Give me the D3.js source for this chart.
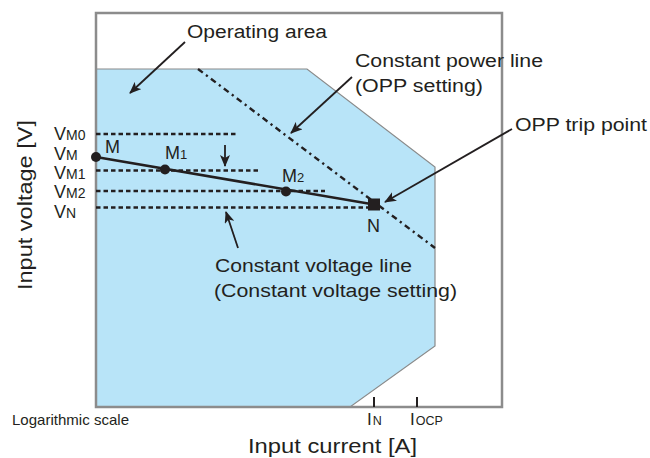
<!DOCTYPE html>
<html><head><meta charset="utf-8">
<script src="https://cdn.jsdelivr.net/npm/d3@7"></script>
<style>
body{margin:0;background:#fff}
text{font-family:"Liberation Sans",Arial,Helvetica,sans-serif;fill:#231f20}
</style>
</head><body><svg id="c" width="650" height="458"></svg>
<script>
// ---- data (schematic units) ----
const operatingArea = [[0,338],[211,338],[339,240],[339,61],[254,0],[0,0]];
const powerLine = [[102,338],[339,159]];
const voltageNames = ["M0","M","M1","M2","N"];
const voltageLevels = [273,250,236.5,216,199.5];
const dashedEnds = [141,null,162,229,277];
const pointNames = ["M","M1","M2","N"];
const pointCurrent = [0,69,190,278];
const pointVoltage = [250,237.5,215.5,202.5];
const currentTickNames = ["N","OCP"];
const currentTickValues = [278,321];
const arrowFrom = [[89,365],[256,330],[416,278],[142,159],[129,262]];
const arrowTo   = [[34,314],[195,274],[289,205],[130,195],[129,241]];

const svg = d3.select("#c");
const x = d3.scaleLinear().domain([0,406]).range([96,502]);
const y = d3.scaleLinear().domain([0,394]).range([407,13]);
const ink = "#231f20";

// marker
svg.append("defs").append("marker")
  .attr("id","ah").attr("markerUnits","userSpaceOnUse")
  .attr("viewBox","0 0 12 10").attr("refX",11).attr("refY",5)
  .attr("markerWidth",12).attr("markerHeight",10).attr("orient","auto")
  .append("path").attr("d","M0,0 L12,5 L0,10 L3,5 Z").attr("fill",ink);

// operating area
svg.append("path")
  .attr("d", d3.line().x(d=>x(d[0])).y(d=>y(d[1]))(operatingArea)+"Z")
  .attr("fill","#b8e4f8").attr("stroke","#8a8a8a").attr("stroke-width",1.2);

// frame
svg.append("rect").attr("x",x(0)).attr("y",y(394)).attr("width",x(406)-x(0)).attr("height",y(0)-y(394))
  .attr("fill","none").attr("stroke","#8c8c8c").attr("stroke-width",2.5);

// constant power line
svg.append("line")
  .attr("x1",x(powerLine[0][0])).attr("y1",y(powerLine[0][1]))
  .attr("x2",x(powerLine[1][0])).attr("y2",y(powerLine[1][1]))
  .attr("stroke",ink).attr("stroke-width",2.4).attr("stroke-dasharray","6,4,2.2,4");

// constant voltage dashed lines
voltageLevels.forEach((v,i)=>{
  if(dashedEnds[i]===null) return;
  svg.append("line").attr("x1",x(0)).attr("x2",x(dashedEnds[i]))
    .attr("y1",y(v)).attr("y2",y(v))
    .attr("stroke",ink).attr("stroke-width",2.3).attr("stroke-dasharray","4.5,3");
});

// operating path M -> N
svg.append("line")
  .attr("x1",x(pointCurrent[0])).attr("y1",y(pointVoltage[0]))
  .attr("x2",x(pointCurrent[3])).attr("y2",y(pointVoltage[3]))
  .attr("stroke",ink).attr("stroke-width",2.6);

// points
pointNames.forEach((n,i)=>{
  if(n==="N"){
    svg.append("rect").attr("x",x(pointCurrent[i])-6).attr("y",y(pointVoltage[i])-6)
      .attr("width",12).attr("height",12).attr("fill",ink);
  } else {
    svg.append("circle").attr("cx",x(pointCurrent[i])).attr("cy",y(pointVoltage[i])).attr("r",5).attr("fill",ink);
  }
});

// point labels
const ptOff = {M:[9,-4],M1:[0,-10.5],M2:[-4,-9.5],N:[-7,27.5]};
pointNames.forEach((n,i)=>{
  const t = svg.append("text").attr("x",x(pointCurrent[i])+ptOff[n][0]).attr("y",y(pointVoltage[i])+ptOff[n][1]).attr("font-size",18);
  t.append("tspan").text(n[0]);
  if(n.length>1) t.append("tspan").attr("font-size",13).text(n.slice(1));
});

// voltage axis labels (spread slightly, as in the reference)
const vLabelShift = [6,3,8.5,7,10.5];
voltageNames.forEach((n,i)=>{
  const t = svg.append("text").attr("x",54).attr("y",y(voltageLevels[i])+vLabelShift[i]).attr("font-size",18);
  t.append("tspan").text("V");
  t.append("tspan").attr("font-size",14).text(n);
});

// current ticks
currentTickValues.forEach((c,i)=>{
  svg.append("line").attr("x1",x(c)).attr("x2",x(c)).attr("y1",y(0)).attr("y2",y(0)-10)
    .attr("stroke",ink).attr("stroke-width",2);
  const t = svg.append("text").attr("x",x(c)-7).attr("y",425).attr("font-size",17);
  t.append("tspan").text("I");
  t.append("tspan").attr("font-size",12.5).attr("dx",1).text(currentTickNames[i]);
});

// arrows
arrowFrom.forEach((f,i)=>{
  svg.append("line").attr("x1",x(f[0])).attr("y1",y(f[1]))
    .attr("x2",x(arrowTo[i][0])).attr("y2",y(arrowTo[i][1]))
    .attr("stroke",ink).attr("stroke-width",1.8).attr("marker-end","url(#ah)");
});

// annotation texts
function label(txt,px,py,size,w){
  const t = svg.append("text").attr("x",px).attr("y",py).attr("font-size",size).text(txt);
  if(w) t.attr("textLength",w).attr("lengthAdjust","spacingAndGlyphs");
  return t;
}
label("Operating area",187,38,18,140);
label("Constant power line",355,67,18,188);
label("(OPP setting)",355,92,18,128);
label("OPP trip point",515,131,18,132);
label("Constant voltage line",215,272,18,197);
label("(Constant voltage setting)",214,297,18,243);
label("Input current [A]",248,453,20,169);
label("Logarithmic scale",12,425,15,117);
svg.append("text").attr("transform","translate(32,205) rotate(-90)").attr("text-anchor","middle")
  .attr("font-size",20).attr("textLength",170).attr("lengthAdjust","spacingAndGlyphs").text("Input voltage [V]");
</script></body></html>
